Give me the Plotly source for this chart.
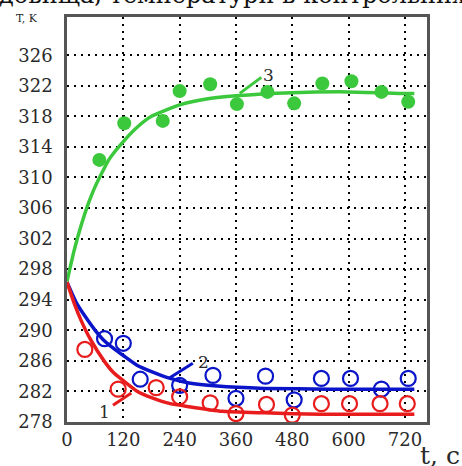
import plotly.graph_objects as go

# Measured points, time t (s) and temperature T (K)
t_meas_3 = [69, 122, 204, 240, 305, 362, 427, 484, 544, 606, 670, 727]
T_meas_3 = [312.3, 317.1, 317.4, 321.3, 322.2, 319.6, 321.2, 319.7, 322.3, 322.6, 321.2, 319.9]

t_meas_2 = [80, 120, 156, 240, 311, 360, 423, 484, 542, 604, 670, 727]
T_meas_2 = [288.9, 288.3, 283.6, 282.8, 284.1, 281.1, 284.0, 280.9, 283.7, 283.7, 282.3, 283.7]

t_meas_1 = [38, 109, 190, 240, 305, 360, 425, 480, 542, 602, 667, 725]
T_meas_1 = [287.5, 282.3, 282.5, 281.3, 280.5, 279.1, 280.3, 278.9, 280.4, 280.4, 280.4, 280.4]

# Smooth model curves
t_fit_3 = [0, 15, 30, 45, 60, 90, 120, 150, 180, 240, 300, 360, 480, 600, 720, 740]
T_fit_3 = [296.4, 300.4, 303.7, 306.5, 308.8, 312.4, 314.7, 316.6, 318.0, 319.5, 320.3, 320.7, 321.1, 321.2, 321.0, 321.0]

t_fit_2 = [0, 20, 40, 60, 80, 100, 120, 150, 180, 220, 260, 320, 420, 560, 740]
T_fit_2 = [296.3, 293.6, 291.7, 290.0, 288.6, 287.6, 286.7, 285.4, 284.6, 283.7, 283.1, 282.7, 282.4, 282.3, 282.3]

t_fit_1 = [0, 15, 30, 50, 80, 100, 120, 150, 180, 220, 260, 330, 420, 540, 740]
T_fit_1 = [296.3, 293.6, 291.3, 288.8, 285.9, 284.4, 283.4, 282.0, 281.2, 280.4, 280.0, 279.4, 279.2, 279.0, 279.0]

x_ticks = [0, 120, 240, 360, 480, 600, 720]
y_ticks = list(range(278, 327, 4))

GREEN = "#3cc83c"
BLUE = "#0a14c8"
RED = "#e81c1c"
SERIF = "DejaVu Serif"
TXT = "#2a2a2a"

fig = go.Figure()

for tf, Tf, col in [(t_fit_3, T_fit_3, GREEN), (t_fit_2, T_fit_2, BLUE), (t_fit_1, T_fit_1, RED)]:
    fig.add_trace(go.Scatter(x=tf, y=Tf, mode="lines",
                             line=dict(color=col, width=3.5, shape="spline", smoothing=0.5),
                             hoverinfo="skip", showlegend=False))

fig.add_trace(go.Scatter(x=t_meas_3, y=T_meas_3, mode="markers",
                         marker=dict(color=GREEN, size=14, line=dict(width=0)),
                         showlegend=False))
fig.add_trace(go.Scatter(x=t_meas_2, y=T_meas_2, mode="markers",
                         marker=dict(symbol="circle-open", color=BLUE, size=15, line=dict(width=2.2)),
                         showlegend=False))
fig.add_trace(go.Scatter(x=t_meas_1, y=T_meas_1, mode="markers",
                         marker=dict(symbol="circle-open", color=RED, size=15, line=dict(width=2.2)),
                         showlegend=False))

# Curve number callouts
callouts = [
    (368, 321.0, 414, 323.1, GREEN, "3", 430, 323.4),
    (219, 283.8, 268, 285.7, BLUE, "2", 291, 285.9),
    (98, 280.2, 137, 281.8, RED, "1", 80, 279.3),
]
for x0, y0, x1, y1, col, lab, lx, ly in callouts:
    fig.add_shape(type="line", x0=x0, y0=y0, x1=x1, y1=y1, xref="x", yref="y",
                  line=dict(color=col, width=3))
    fig.add_annotation(x=lx, y=ly, text=lab, showarrow=False, xref="x", yref="y",
                       font=dict(family=SERIF, size=17, color=TXT))

fig.add_annotation(x=-0.11, y=0.997, xref="paper", yref="paper", text="T, K",
                   showarrow=False, xanchor="center", yanchor="middle",
                   font=dict(family=SERIF, size=11, color=TXT))
fig.add_annotation(x=0.975, y=-0.082, xref="paper", yref="paper", text="t, c",
                   showarrow=False, xanchor="left", yanchor="middle",
                   font=dict(family=SERIF, size=25, color=TXT))
# Caption line continuing from above the figure
fig.add_annotation(x=-0.194, y=1.0, xref="paper", yref="paper",
                   text="довища, температури в контрольних",
                   showarrow=False, xanchor="left", yanchor="bottom", yshift=6,
                   font=dict(family=SERIF, size=24, color="#111"))

grid = dict(showgrid=True, gridcolor="#000", gridwidth=2, griddash="2px,5px",
            showline=True, linecolor="#555", linewidth=2.5, mirror=True,
            ticks="", zeroline=False,
            tickfont=dict(family=SERIF, size=18, color=TXT))

fig.update_xaxes(range=[0, 767], tickvals=x_ticks, ticktext=[str(v) for v in x_ticks], **grid)
fig.update_yaxes(range=[278, 331], tickvals=y_ticks, ticktext=[str(v) for v in y_ticks],
                 ticklabelstandoff=8, **grid)

fig.update_layout(width=462, height=466, margin=dict(l=67, r=35, t=17, b=44),
                  plot_bgcolor="white", paper_bgcolor="white")

fig.write_html("out.html")
